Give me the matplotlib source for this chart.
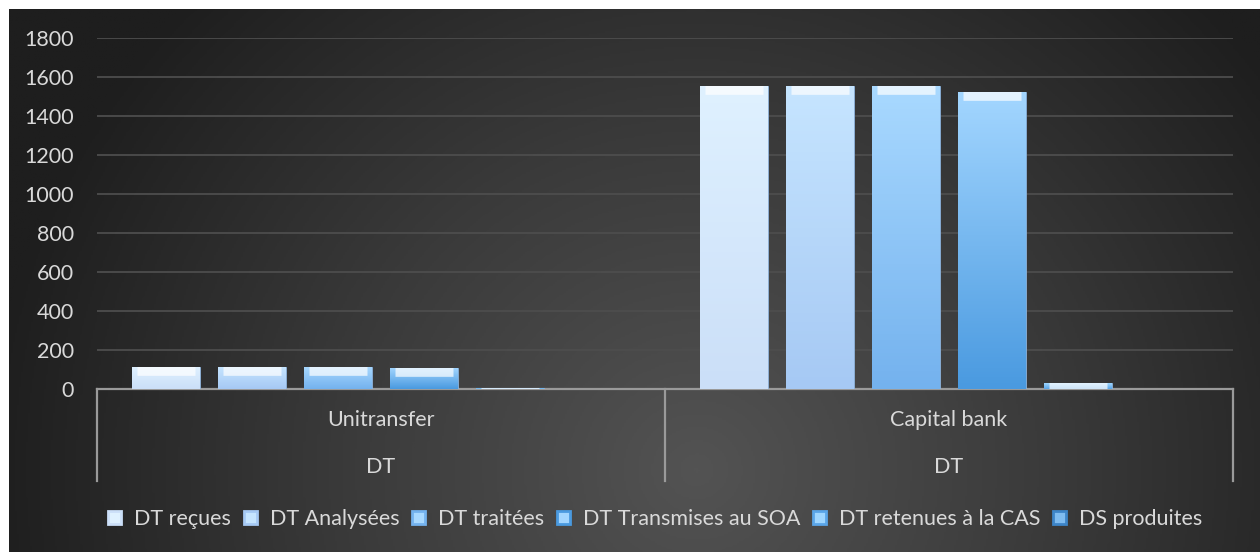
import numpy as np
import matplotlib
matplotlib.use("Agg")
from matplotlib import pyplot as plt
from matplotlib.patches import Patch
import matplotlib.transforms as mtransforms
from matplotlib.colors import LinearSegmentedColormap

plt.rcParams['font.family'] = ['Lato', 'DejaVu Sans']

# %% data
categories = ["Unitransfer", "Capital bank"]
level2 = ["DT", "DT"]
series = ["DT reçues", "DT Analysées", "DT traitées", "DT Transmises au SOA",
          "DT retenues à la CAS", "DS produites"]
dt_recues = [113, 1554]
dt_analysees = [113, 1554]
dt_traitees = [113, 1555]
dt_transmises = [110, 1521]
dt_retenues = [3, 29]
ds_produites = [0, 0]
values = [dt_recues, dt_analysees, dt_traitees, dt_transmises, dt_retenues, ds_produites]

# top / bottom colours of each bar gradient
tops = ["#dff1ff", "#c6e5ff", "#a9d9ff", "#a3d6ff", "#9fd6ff", "#7fbcf0"]
bottoms = ["#cbdff8", "#a6c9f4", "#74b2ee", "#4a9ae0", "#5aa5e8", "#3d85c8"]
txt = "#d9d9d9"
fs = 15.5

# %%
fig = plt.figure(figsize=(12.6, 5.52), dpi=100)
fig.patch.set_facecolor("white")

# dark radial background
bg = fig.add_axes([9/1260, 0, 1 - 9/1260, 1 - 9/552])
bg.set_axis_off()
yy, xx = np.mgrid[0:1:300j, 0:1:600j]
r = np.sqrt(((xx - 0.55) * 2.2) ** 2 + ((yy - 0.15) * 1.0) ** 2)
r = np.clip(r / 1.25, 0, 1)
bgmap = LinearSegmentedColormap.from_list("bg", ["#535353", "#3a3a3a", "#1e1e1e"])
bg.imshow(r, cmap=bgmap, aspect="auto", origin="lower", extent=[0, 1, 0, 1])
bg.set_xlim(0, 1); bg.set_ylim(0, 1)

ax = fig.add_axes([97/1260, 1 - 389/552, (1233 - 97)/1260, (389 - 37.7)/552])
ax.patch.set_alpha(0)

x = np.arange(len(categories))
step = 86/568
width = 68/568
for i, vals in enumerate(values):
    off = (i - (len(values) - 1) / 2) * step
    bars = ax.bar(x + off, vals, width, color=bottoms[i], edgecolor="#8fb4dc",
                  linewidth=0.6, zorder=3, label=series[i])
    cm = LinearSegmentedColormap.from_list("b%d" % i, [bottoms[i], tops[i]])
    for b in bars:
        if b.get_height() <= 0:
            continue
        x0, y0 = b.get_x(), b.get_y()
        grad = np.linspace(0, 1, 100).reshape(-1, 1)
        im = ax.imshow(grad, cmap=cm, aspect="auto", origin="lower",
                       extent=[x0, x0 + b.get_width(), y0, y0 + b.get_height()],
                       zorder=3.5)
        im.set_clip_path(b)
        # bevel highlight on top, kept inside the bar
        hl, = ax.plot([x0 + b.get_width()*0.07, x0 + b.get_width()*0.93],
                      [y0 + b.get_height()]*2, color="white", lw=12, alpha=0.7,
                      zorder=4, solid_capstyle="butt")
        hl.set_clip_path(b)

ax.set_xlim(-0.5, 1.5)
ax.set_ylim(0, 1800)
ax.set_yticks(np.arange(0, 1801, 200))
ax.yaxis.grid(True, color="#4d4d4d", lw=1.3)
ax.set_axisbelow(True)
ax.tick_params(axis="y", length=0, pad=16.5, labelsize=fs, labelcolor=txt)
ax.set_xticks([])
for s in ["left", "right", "top"]:
    ax.spines[s].set_visible(False)
ax.spines["bottom"].set_color("#9a9a9a")
ax.spines["bottom"].set_linewidth(1.6)

# multi-level category axis
trans = mtransforms.blended_transform_factory(ax.transData, ax.transAxes)
for sep in [-0.5, 0.5, 1.5]:
    ax.plot([sep, sep], [0, -0.262], transform=trans, color="#9a9a9a", lw=1.6,
            clip_on=False)
for xi, c, l2 in zip(x, categories, level2):
    ax.text(xi, -0.088, c, transform=trans, ha="center", va="center",
            fontsize=fs, color=txt)
    ax.text(xi, -0.222, l2, transform=trans, ha="center", va="center",
            fontsize=fs, color=txt)

handles = [Patch(facecolor=tops[i], edgecolor=bottoms[i], linewidth=2)
           for i in range(len(series))]
fig.legend(handles, series, loc="center", bbox_to_anchor=(0.52, 1 - 519/552),
           ncol=6, frameon=False, fontsize=fs, labelcolor=txt,
           handlelength=0.6, handleheight=0.6, handletextpad=0.6,
           columnspacing=0.6)

fig.savefig("out.png", dpi=100)
